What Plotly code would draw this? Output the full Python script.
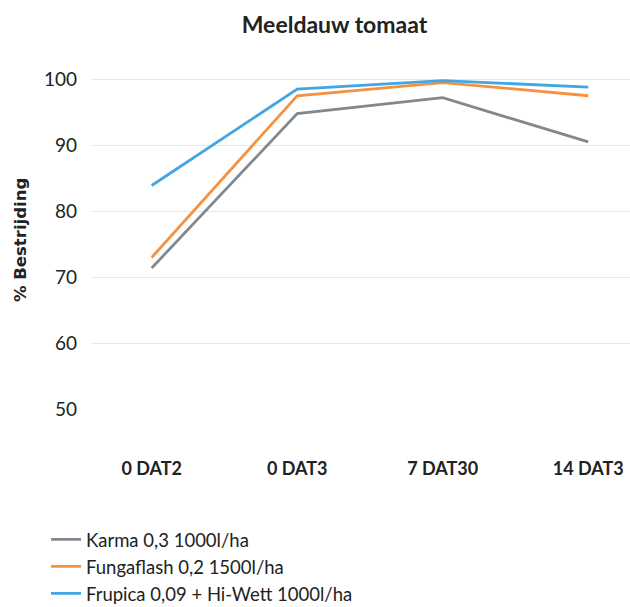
import plotly.graph_objects as go

categories = ["0 DAT2", "0 DAT3", "7 DAT30", "14 DAT3"]
series_names = ["Karma 0,3 1000l/ha", "Fungaflash 0,2 1500l/ha", "Frupica 0,09 + Hi-Wett 1000l/ha"]
karma = [71.4, 94.8, 97.2, 90.5]
fungaflash = [73.0, 97.5, 99.5, 97.5]
frupica = [83.9, 98.5, 99.8, 98.8]
y_ticks = [50, 60, 70, 80, 90, 100]
y_title = "% Bestrijding"

colors = ["#80898f", "#f5913f", "#42a6e2"]
values = [karma, fungaflash, frupica]

fig = go.Figure()
for name, vals, col in zip(series_names, values, colors):
    fig.add_trace(go.Scatter(x=categories, y=vals, mode="lines", name=name,
                             line=dict(color=col, width=2.8)))

font_main = "Gill Sans, Lato, Open Sans, sans-serif"
fig.update_layout(
    width=630, height=607,
    margin=dict(l=91, r=0, t=70, b=197, autoexpand=False),
    paper_bgcolor="white", plot_bgcolor="white",
    title=dict(text="<b>Meeldauw tomaat</b>", x=0.531, xanchor="center",
               y=0.959, yanchor="middle",
               font=dict(family=font_main, size=23, color="#222222")),
    xaxis=dict(type="category", categoryorder="array", categoryarray=categories,
               range=[-0.417, 3.287], showgrid=False, automargin=False,
               zeroline=False, showline=False, ticks="",
               tickfont=dict(family=font_main, size=18, color="#222222", weight="bold"),
               ticklabelstandoff=46),
    yaxis=dict(range=[49.9, 101.4], tickvals=y_ticks, showgrid=True, gridcolor="#dde9f3",
               gridwidth=1, zeroline=False, showline=False, ticks="", automargin=False,
               tickfont=dict(family=font_main, size=19, color="#222222"),
               ticklabelstandoff=13),
    legend=dict(xref="container", yref="container", x=46 / 630, xanchor="left",
                y=0.142, yanchor="top", orientation="v",
                font=dict(family=font_main, size=18.5, color="#222222"),
                bgcolor="rgba(0,0,0,0)", tracegroupgap=0),
    showlegend=True,
    annotations=[dict(text="<b>" + y_title + "</b>", textangle=-90,
                      xref="paper", yref="paper", x=(20 - 91) / 539, y=0.5,
                      xanchor="center", yanchor="middle", showarrow=False,
                      font=dict(family="DejaVu Sans, sans-serif", size=16.5, color="#222222"))],
)
fig.write_html("out.html", config={"displayModeBar": False},
               post_script="document.body.style.margin='0';")
